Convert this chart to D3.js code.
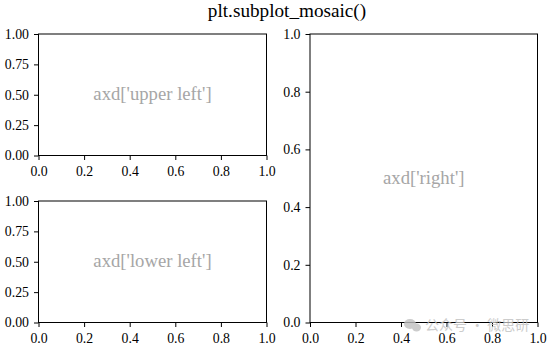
<!DOCTYPE html>
<html>
<head>
<meta charset="utf-8">
<script src="https://cdn.jsdelivr.net/npm/d3@7"></script>
<style>
  body { margin: 0; background: #fff; }
</style>
</head>
<body>
<script>
const title = 'plt.subplot_mosaic()'
const panelNames = ['upper left', 'lower left', 'right']
const xTicks = [0, 0.2, 0.4, 0.6, 0.8, 1.0]
const yTicksLeft = [0, 0.25, 0.5, 0.75, 1.0]
const yTicksRight = [0, 0.2, 0.4, 0.6, 0.8, 1.0]
const watermark = '公众号 · 微思研'

const width = 550, height = 350
const serif = 'Liberation Serif'
const svg = d3.select('body').append('svg')
  .attr('width', width).attr('height', height)

// panel boxes in pixels
const boxes = {
  'upper left': {x0: 38.5, y0: 34, x1: 266.5, y1: 155.5, yTicks: yTicksLeft, fmt: d3.format('.2f')},
  'lower left': {x0: 38.5, y0: 201, x1: 266.5, y1: 322.5, yTicks: yTicksLeft, fmt: d3.format('.2f')},
  'right': {x0: 310, y0: 34, x1: 537.5, y1: 322.5, yTicks: yTicksRight, fmt: d3.format('.1f')}
}

svg.append('text')
  .attr('x', 287).attr('y', 17)
  .attr('text-anchor', 'middle')
  .attr('font-family', serif)
  .attr('font-size', 19.2)
  .text(title)

panelNames.forEach(name => {
  const b = boxes[name]
  const x = d3.scaleLinear().domain([0, 1]).range([b.x0, b.x1])
  const y = d3.scaleLinear().domain([0, 1]).range([b.y1, b.y0])
  const g = svg.append('g')

  const xa = g.append('g').attr('transform', `translate(0,${b.y1})`)
    .call(d3.axisBottom(x).tickValues(xTicks).tickFormat(d3.format('.1f')).tickSize(4.5).tickPadding(6.5))
  const ya = g.append('g').attr('transform', `translate(${b.x0},0)`)
    .call(d3.axisLeft(y).tickValues(b.yTicks).tickFormat(b.fmt).tickSize(4.5).tickPadding(5))
  ;[xa, ya].forEach(a => {
    a.attr('font-family', serif).attr('font-size', 13.8)
    a.select('.domain').remove()
    a.selectAll('line').attr('stroke', '#000').attr('stroke-width', 1)
    a.selectAll('text').attr('fill', '#000')
  })

  g.append('rect')
    .attr('x', b.x0).attr('y', b.y0)
    .attr('width', b.x1 - b.x0).attr('height', b.y1 - b.y0)
    .attr('fill', 'none').attr('stroke', '#000').attr('stroke-width', 1)

  g.append('text')
    .attr('x', x(0.5)).attr('y', y(0.5))
    .attr('dy', '0.3em')
    .attr('text-anchor', 'middle')
    .attr('font-family', serif)
    .attr('font-size', 18.7).attr('fill', '#a6a6a6')
    .text(`axd['${name}']`)
})

// watermark on top, semi-transparent
const wm = svg.append('g').attr('opacity', 0.8)
wm.append('ellipse').attr('cx', 410).attr('cy', 324).attr('rx', 6).attr('ry', 5).attr('fill', '#c0c0c0')
wm.append('ellipse').attr('cx', 416.5).attr('cy', 327.5).attr('rx', 4.5).attr('ry', 4).attr('fill', '#c0c0c0')
wm.append('text')
  .attr('x', 425).attr('y', 329.5)
  .attr('font-family', 'Noto Sans CJK SC')
  .attr('font-size', 14).attr('fill', '#c0c0c0')
  .text(watermark)
</script>
</body>
</html>
